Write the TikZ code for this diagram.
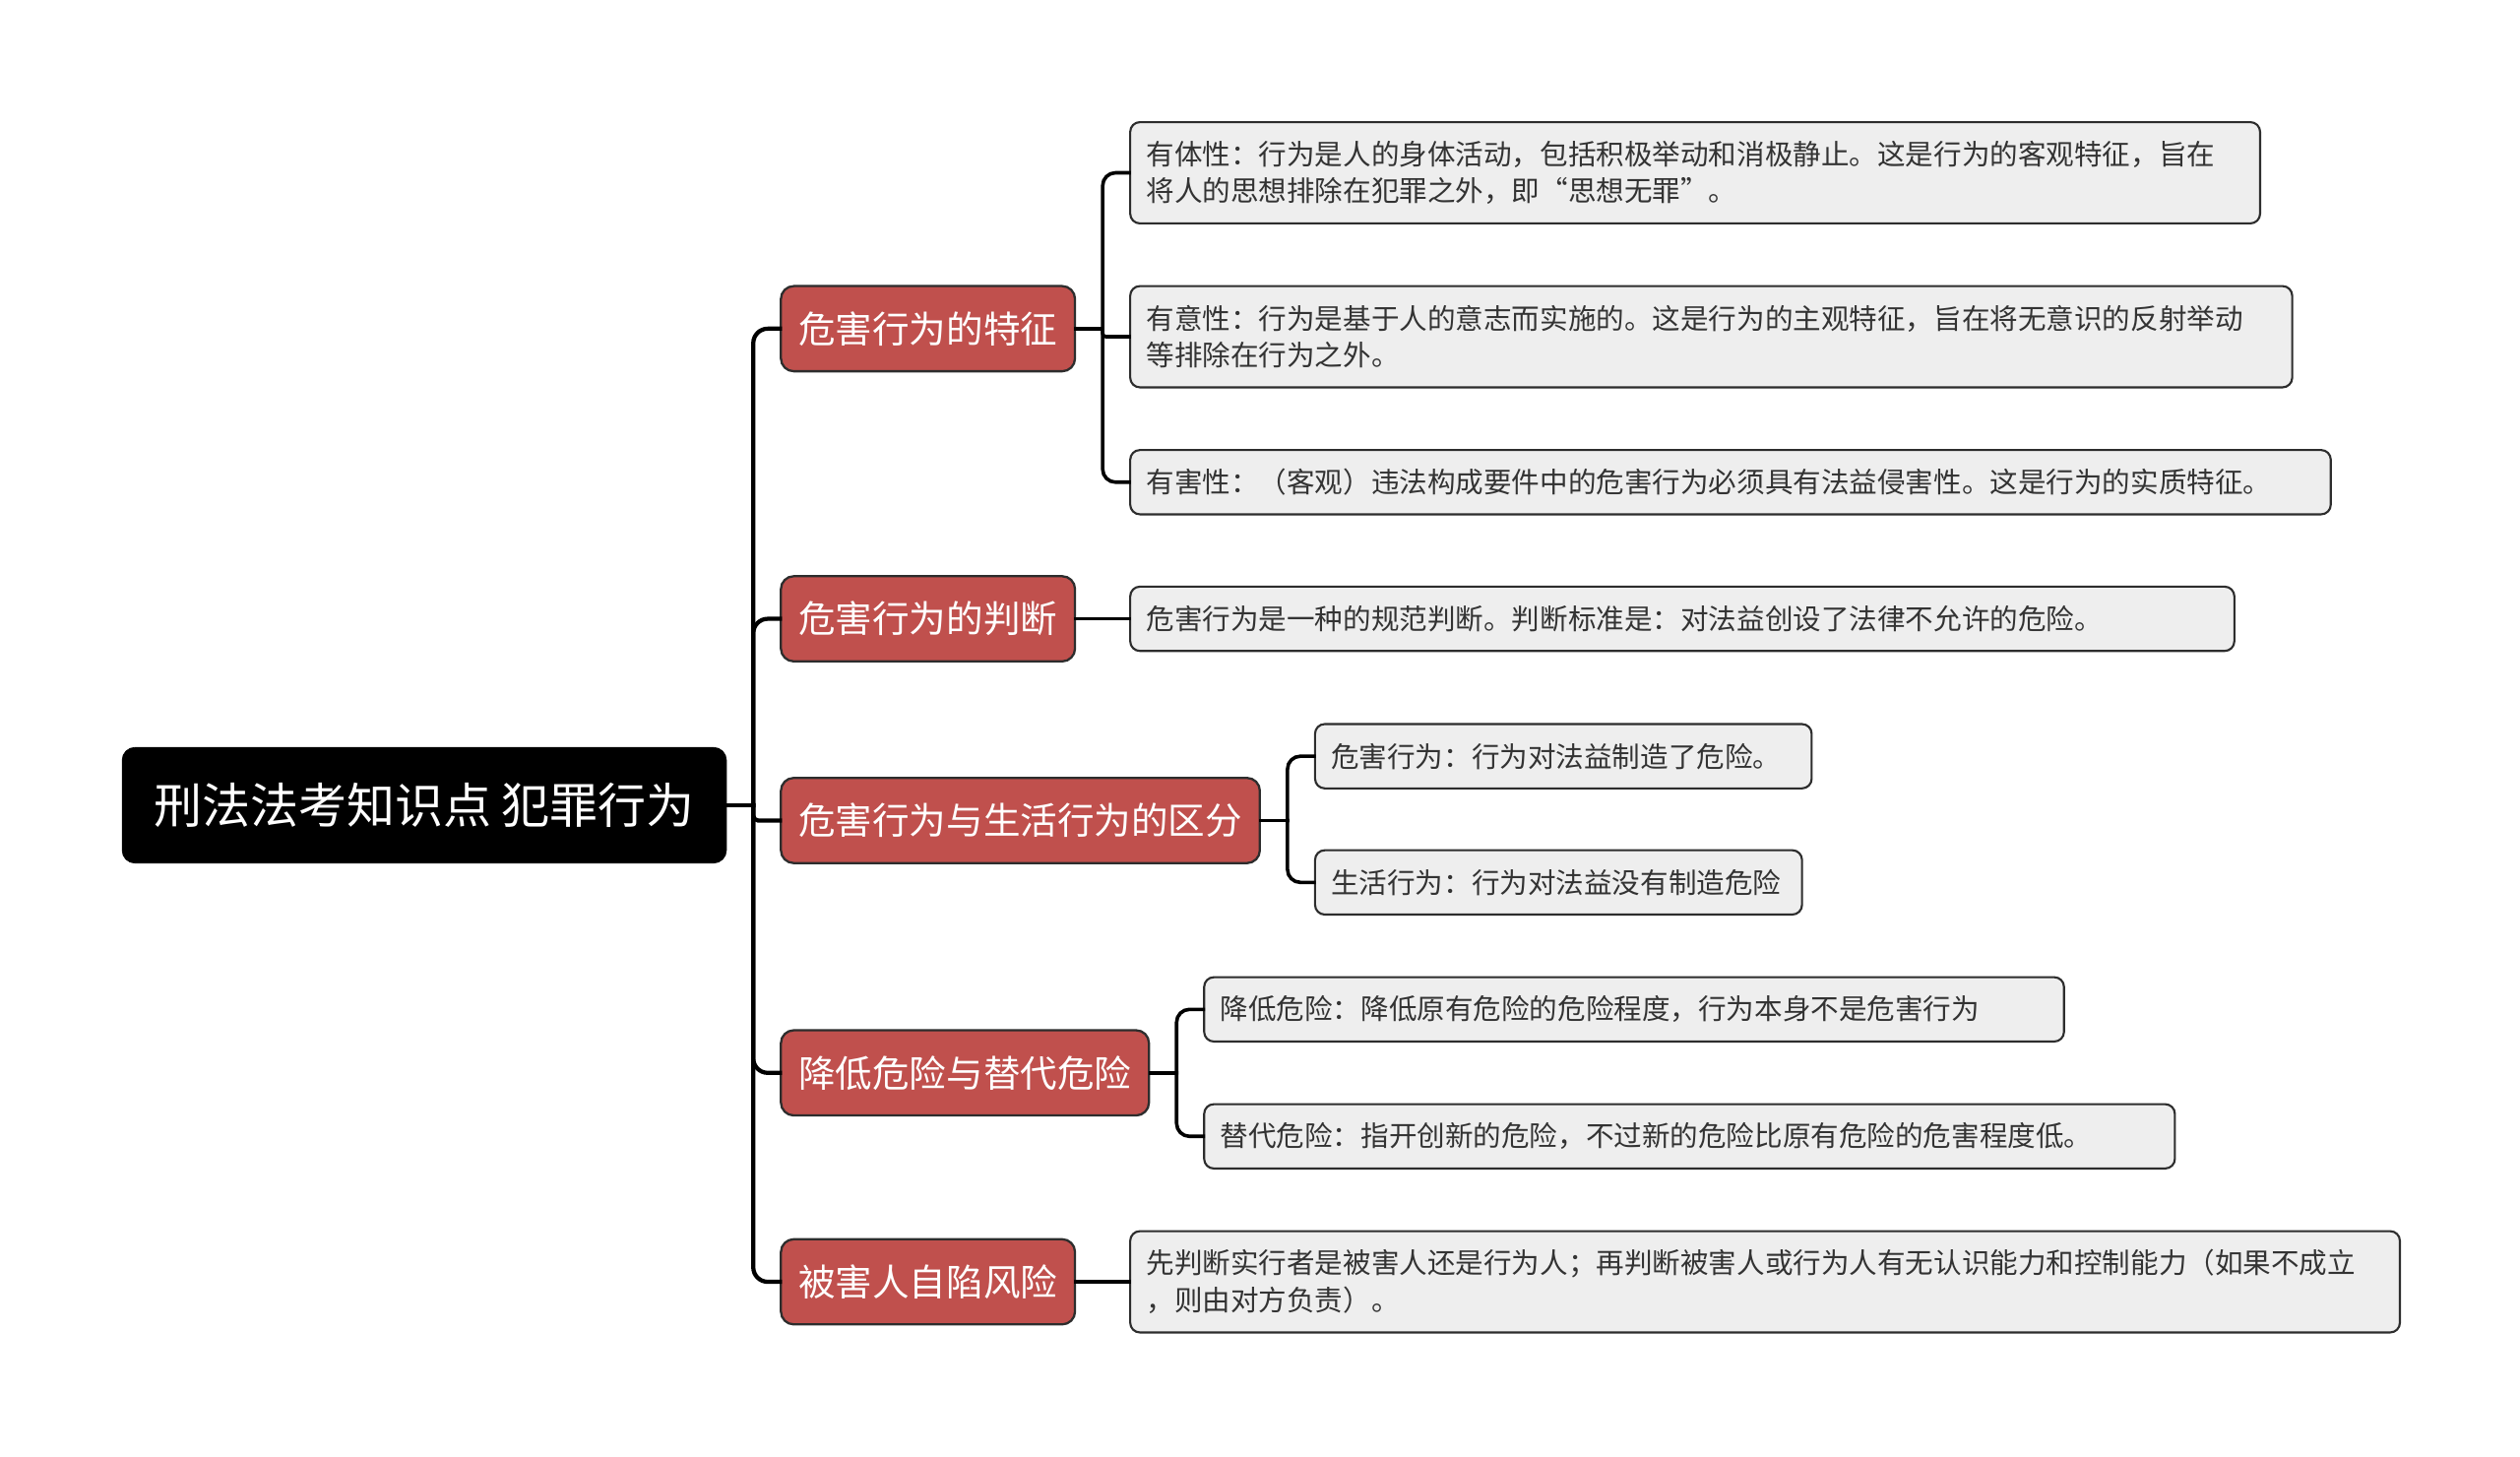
\documentclass[tikz,border=0pt]{standalone}
\usepackage{fontspec}
\usepackage{tikz}
\usetikzlibrary{positioning}
\newfontfamily\cjk{Noto Sans CJK SC}
\definecolor{topicred}{RGB}{192,80,77}
\definecolor{notegray}{RGB}{238,238,238}
\definecolor{linegray}{RGB}{45,45,45}

\begin{document}
\begin{tikzpicture}[node distance=33pt,
    root/.style={draw=black, fill=black, text=white, rounded corners=8pt,
      minimum height=72pt, minimum width=376pt, inner sep=0pt,
      font=\cjk\fontsize{30pt}{36pt}\selectfont},
    topic/.style={draw=linegray, line width=1.4pt, fill=topicred, text=white,
      rounded corners=8pt, minimum height=53pt, inner xsep=11pt, inner ysep=0pt,
      font=\cjk\fontsize{23pt}{28pt}\selectfont},
    note/.style={draw=linegray, line width=1.3pt, fill=notegray, text=black!80,
      rounded corners=6pt, minimum height=40pt, inner xsep=10pt, inner ysep=0pt,
      align=left, font=\cjk\fontsize{17.5pt}{23pt}\selectfont},
    trunk/.style={draw=black, line width=2.6pt, line cap=rect},
    twig/.style={draw=black, line width=2.2pt, line cap=rect}]
        \useasboundingbox (0,0) rectangle (1568pt,906pt);
        \node[root] (R) at (264pt,405pt) {刑法法考知识点 犯罪行为};
        \node[topic] (A) [right=of R, yshift=296.5pt] {危害行为的特征};
        \node[topic] (B) [right=of R, yshift=116pt] {危害行为的判断};
        \node[topic] (C) [right=of R, yshift=-9.5pt] {危害行为与生活行为的区分};
        \node[topic] (D) [right=of R, yshift=-166.5pt] {降低危险与替代危险};
        \node[topic] (E) [right=of R, yshift=-296.5pt] {被害人自陷风险};
        \node[note, text width=683pt, minimum height=63pt] (A1) [right=of A, yshift=97pt]
          {有体性：行为是人的身体活动，包括积极举动和消极静止。这是行为的客观特征，旨在\\将人的思想排除在犯罪之外，即“思想无罪”。};
        \node[note, text width=703pt, minimum height=63pt] (A2) [right=of A, yshift=-5pt]
          {有意性：行为是基于人的意志而实施的。这是行为的主观特征，旨在将无意识的反射举动\\等排除在行为之外。};
        \node[note, text width=727pt] (A3) [right=of A, yshift=-95.5pt]
          {有害性：（客观）违法构成要件中的危害行为必须具有法益侵害性。这是行为的实质特征。};
        \node[note, text width=667pt] (B1) [right=of B]
          {危害行为是一种的规范判断。判断标准是：对法益创设了法律不允许的危险。};
        \node[note, text width=289pt] (C1) [right=of C, yshift=40pt]
          {危害行为：行为对法益制造了危险。};
        \node[note, text width=283pt] (C2) [right=of C, yshift=-38.5pt]
          {生活行为：行为对法益没有制造危险};
        \node[note, text width=515pt] (D1) [right=of D, yshift=39.5pt]
          {降低危险：降低原有危险的危险程度，行为本身不是危害行为};
        \node[note, text width=584pt] (D2) [right=of D, yshift=-39.5pt]
          {替代危险：指开创新的危险，不过新的危险比原有危险的危害程度低。};
        \node[note, text width=770pt, minimum height=63pt] (E1) [right=of E]
          {先判断实行者是被害人还是行为人；再判断被害人或行为人有无认识能力和控制能力（如果不成立\\，则由对方负责）。};
        % root to topics
        \path (R.east) ++(16.5pt,0) coordinate (Rj);
        \draw[trunk] (R.east) -- (Rj);
        \foreach \t in {A,B,D,E}
          \draw[trunk, rounded corners=9pt] (Rj) |- (\t.west);
        \draw[trunk, rounded corners=3pt] (Rj) |- (C.west);
        % topics to notes
        \foreach \p in {A,C,D} {
          \path (\p.east) ++(16.5pt,0) coordinate (\p j);
          \draw[twig] (\p.east) -- (\p j);
        }
        \foreach \p/\n in {A/A1,A/A3,C/C1,C/C2,D/D1,D/D2}
          \draw[twig, rounded corners=8pt] (\p j) |- (\n.west);
        \draw[twig, rounded corners=2pt] (Aj) |- (A2.west);
        \draw[twig] (B.east) -- (B1.west);
        \draw[twig] (E.east) -- (E1.west);
  \end{tikzpicture}
\end{document}
